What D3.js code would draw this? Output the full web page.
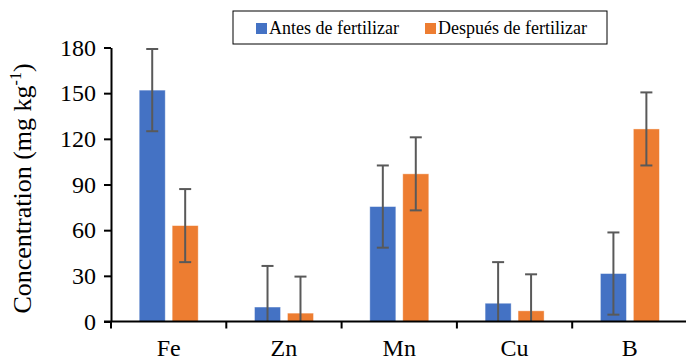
<!DOCTYPE html>
<html>
<head>
<meta charset="utf-8">
<script src="https://cdn.jsdelivr.net/npm/d3@7"></script>
</head>
<body style="margin:0;background:#fff;font-family:'Liberation Serif'">
<div id="chart" style="position:relative;width:686px;height:360px">
  <div style="position:absolute;left:0;top:0;font-family:'Liberation Serif';font-size:2px;color:rgba(255,255,255,0)">Fe</div>
</div>
<script>
const categories = ['Fe', 'Zn', 'Mn', 'Cu', 'B'];
const seriesNames = ['Antes de fertilizar', 'Después de fertilizar'];
const antesValues = [152, 9.5, 75.5, 12, 31.5];
const antesErrors = [27, 27, 27, 27, 27];
const despuesValues = [63, 5.5, 97, 7, 126.5];
const despuesErrors = [24, 24, 24, 24, 24];
const yTicks = [0, 30, 60, 90, 120, 150, 180];
const colors = ['#4472C4', '#ED7D31'];

const width = 686, height = 360;
const margin = { top: 47.5, right: 0, bottom: 38.5, left: 111 };
const serif = 'Liberation Serif';

const rows = categories.map((c, i) => ({
  cat: c,
  bars: [
    { s: 0, v: antesValues[i], e: antesErrors[i] },
    { s: 1, v: despuesValues[i], e: despuesErrors[i] }
  ]
}));

const svg = d3.select('#chart').append('svg')
  .attr('width', width)
  .attr('height', height)
  .style('position', 'absolute')
  .style('left', '0')
  .style('top', '0');

const x = d3.scaleBand()
  .domain(categories)
  .range([margin.left, margin.left + 115.3 * 5])
  .padding(0);

const inner = d3.scaleBand()
  .domain([0, 1])
  .range([28.2, 87.2])
  .paddingInner(0.21)
  .paddingOuter(0);

const y = d3.scaleLinear()
  .domain([0, 180])
  .range([height - margin.bottom, margin.top]);

// bars
const groups = svg.append('g').selectAll('g')
  .data(rows)
  .join('g')
  .attr('transform', d => `translate(${x(d.cat)},0)`);

groups.selectAll('rect')
  .data(d => d.bars)
  .join('rect')
  .attr('x', d => inner(d.s))
  .attr('width', inner.bandwidth())
  .attr('y', d => y(d.v))
  .attr('height', d => y(0) - y(d.v))
  .attr('fill', d => colors[d.s])
  .attr('stroke', '#ffffff')
  .attr('stroke-opacity', 0.5)
  .attr('stroke-width', 0.8);

// error bars
const errColor = '#595959';
const err = groups.selectAll('g.err')
  .data(d => d.bars)
  .join('g')
  .attr('class', 'err');

err.append('line')
  .attr('x1', d => inner(d.s) + inner.bandwidth() / 2)
  .attr('x2', d => inner(d.s) + inner.bandwidth() / 2)
  .attr('y1', d => y(d.v + d.e))
  .attr('y2', d => y(Math.max(0, d.v - d.e)))
  .attr('stroke', errColor)
  .attr('stroke-width', 2);

err.append('line')
  .attr('x1', d => inner(d.s) + inner.bandwidth() / 2 - 6)
  .attr('x2', d => inner(d.s) + inner.bandwidth() / 2 + 6)
  .attr('y1', d => y(d.v + d.e))
  .attr('y2', d => y(d.v + d.e))
  .attr('stroke', errColor)
  .attr('stroke-width', 2);

err.filter(d => d.v - d.e > 0).append('line')
  .attr('x1', d => inner(d.s) + inner.bandwidth() / 2 - 6)
  .attr('x2', d => inner(d.s) + inner.bandwidth() / 2 + 6)
  .attr('y1', d => y(d.v - d.e))
  .attr('y2', d => y(d.v - d.e))
  .attr('stroke', errColor)
  .attr('stroke-width', 2);

// y axis
const yAxis = svg.append('g')
  .attr('transform', `translate(${margin.left},0)`)
  .call(d3.axisLeft(y).tickValues(yTicks).tickSize(7).tickSizeOuter(0).tickPadding(8))
  .attr('font-family', serif)
  .attr('font-size', 24);
yAxis.select('.domain').attr('stroke', '#000').attr('stroke-width', 2);
yAxis.selectAll('.tick line').attr('stroke', '#000').attr('stroke-width', 2);
yAxis.selectAll('.tick text')
  .attr('font-family', serif)
  .attr('font-size', 24)
  .attr('fill', '#000');

// x axis
const boundaries = categories.map(c => x(c));
const xAxis = svg.append('g');
xAxis.append('line')
  .attr('x1', margin.left - 7)
  .attr('x2', width)
  .attr('y1', y(0))
  .attr('y2', y(0))
  .attr('stroke', '#000')
  .attr('stroke-width', 2);
xAxis.selectAll('line.tk')
  .data(boundaries)
  .join('line')
  .attr('class', 'tk')
  .attr('x1', d => d)
  .attr('x2', d => d)
  .attr('y1', y(0))
  .attr('y2', y(0) + 7)
  .attr('stroke', '#000')
  .attr('stroke-width', 2);
xAxis.selectAll('text')
  .data(categories)
  .join('text')
  .attr('x', d => x(d) + x.bandwidth() / 2)
  .attr('y', 356)
  .attr('text-anchor', 'middle')
  .attr('font-family', serif)
  .attr('font-size', 24)
  .text(d => d);

// y title
const title = svg.append('text')
  .attr('transform', `translate(31, ${(margin.top + y(0)) / 2 + 4}) rotate(-90)`)
  .attr('text-anchor', 'middle')
  .attr('font-family', serif)
  .attr('font-size', 26);
title.append('tspan').text('Concentration (mg kg');
title.append('tspan').attr('font-size', 16).attr('dy', -10).text('-1');
title.append('tspan').attr('dy', 10).text(')');

// legend
const legend = svg.append('g');
legend.append('rect')
  .attr('x', 233)
  .attr('y', 11)
  .attr('width', 374)
  .attr('height', 33)
  .attr('fill', '#fff')
  .attr('stroke', '#000')
  .attr('stroke-width', 1);
const legendX = [256, 425];
const items = legend.selectAll('g.item')
  .data(seriesNames)
  .join('g')
  .attr('class', 'item')
  .attr('transform', (d, i) => `translate(${legendX[i]},0)`);
items.append('rect')
  .attr('x', 0)
  .attr('y', 23)
  .attr('width', 11)
  .attr('height', 11)
  .attr('fill', (d, i) => colors[i]);
items.append('text')
  .attr('x', 13)
  .attr('y', 34)
  .attr('font-family', serif)
  .attr('font-size', 18)
  .text(d => d);
</script>
</body>
</html>
